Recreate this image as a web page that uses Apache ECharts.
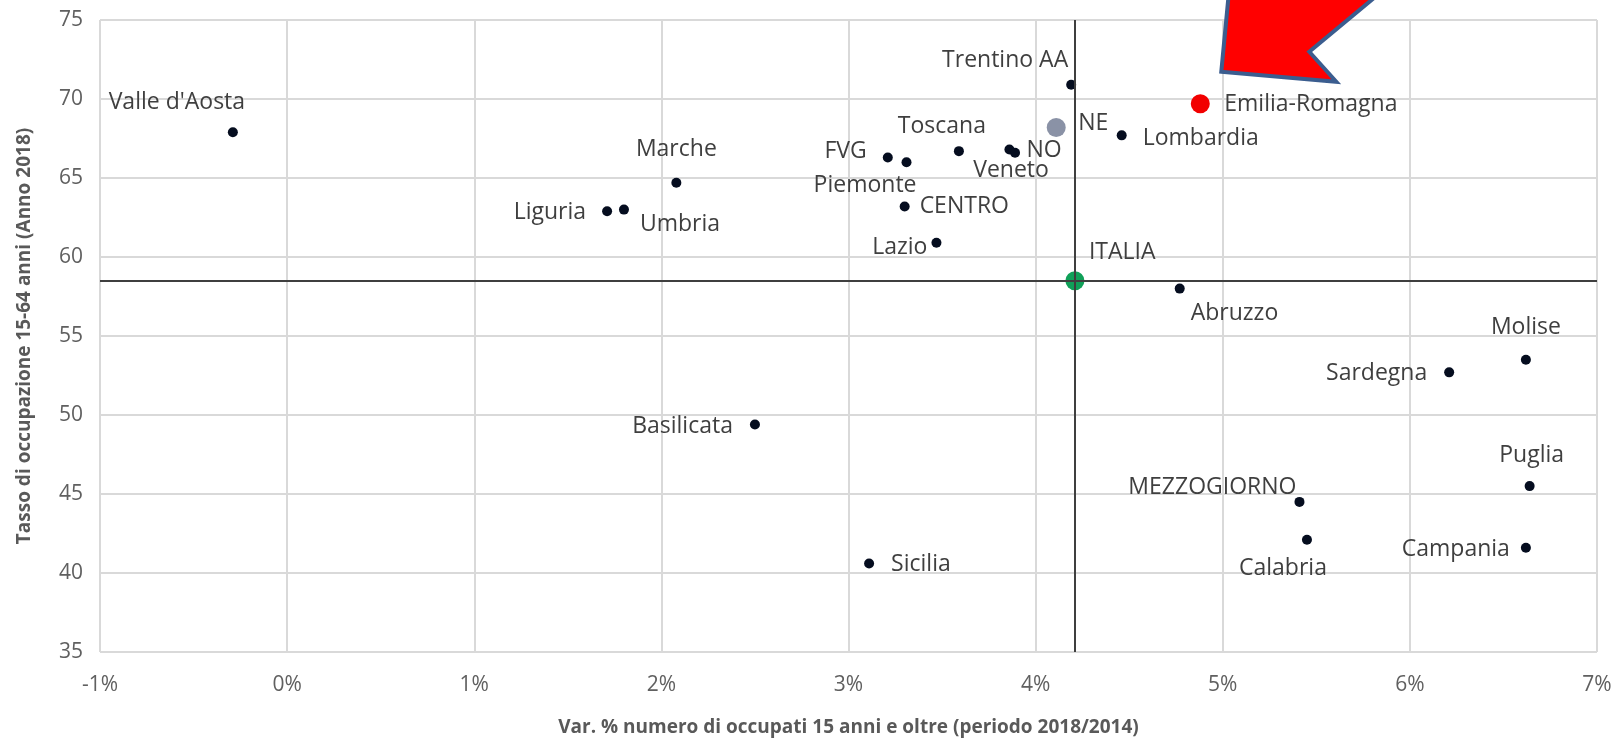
<!DOCTYPE html>
<html><head><meta charset="utf-8">
<script src="https://cdn.jsdelivr.net/npm/echarts@6/dist/echarts.min.js"></script>
<style>html,body{margin:0;padding:0;background:#fff}#c{width:1619px;height:742px}</style>
</head><body><div id="c"></div>
<script>
// ---- data ----
const names = ["Valle d'Aosta","Liguria","Umbria","Marche","Basilicata","Sicilia","FVG","Piemonte","CENTRO","Lazio","Toscana","NO","Veneto","Trentino AA","Lombardia","Abruzzo","MEZZOGIORNO","Calabria","Sardegna","Molise","Puglia","Campania","NE","ITALIA","Emilia-Romagna"];
const varOccupati = [-0.29,1.71,1.80,2.08,2.50,3.11,3.21,3.31,3.30,3.47,3.59,3.86,3.89,4.19,4.46,4.77,5.41,5.45,6.21,6.62,6.64,6.62,4.11,4.21,4.88];
const tassoOccupazione = [67.9,62.9,63.0,64.7,49.4,40.6,66.3,66.0,63.2,60.9,66.7,66.8,66.6,70.9,67.7,58.0,44.5,42.1,52.7,53.5,45.5,41.6,68.2,58.5,69.7];
const xMin = -1, xMax = 7, xStep = 1;
const yMin = 35, yMax = 75, yStep = 5;
const referenceName = "ITALIA";
const highlightName = "Emilia-Romagna";
const xTitle = "Var. % numero di occupati 15 anni e oltre (periodo 2018/2014)";
const yTitle = "Tasso di occupazione 15-64 anni (Anno 2018)";

// ---- styles (label placement relative to the dot: dx, dy, align) ----
const labelPlace = {
  "Valle d'Aosta": [-56,-30,'center'], "Liguria": [-21,1,'right'], "Umbria": [16,15,'left'],
  "Marche": [0,-33,'center'], "Basilicata": [-22,2,'right'], "Sicilia": [22,1,'left'],
  "FVG": [-21,-6,'right'], "Piemonte": [10,23,'right'], "CENTRO": [15,0,'left'],
  "Lazio": [-9,5,'right'], "Toscana": [-17,-25,'center'], "NO": [17,1,'left'],
  "Veneto": [-4,18,'center'], "Trentino AA": [-3,-24,'right'], "Lombardia": [21,3,'left'],
  "Abruzzo": [11,25,'left'], "MEZZOGIORNO": [-3,-14,'right'], "Calabria": [-24,29,'center'],
  "Sardegna": [-22,1,'right'], "Molise": [0,-32,'center'], "Puglia": [2,-31,'center'],
  "Campania": [-16,2,'right'], "NE": [22,-4,'left'], "ITALIA": [14,-28,'left'],
  "Emilia-Romagna": [24,1,'left']
};
const specialStyle = {
  "NE": {color:'#8a92a6', size:19},
  "ITALIA": {color:'#10a058', size:19},
  "Emilia-Romagna": {color:'#f20000', size:19}
};
const dotStyle = {color:'#050d1f', size:10};
const FONT = '"Open Sans", sans-serif';

const data = names.map((n, i) => {
  const st = specialStyle[n] || dotStyle;
  const p = labelPlace[n];
  return {
    name: n,
    value: [varOccupati[i], tassoOccupazione[i]],
    symbolSize: st.size,
    itemStyle: {color: st.color, opacity: 1},
    label: {show: true, position: 'inside', offset: [p[0], p[1]], align: p[2], verticalAlign: 'middle',
      formatter: n, color: '#3f3f3f', fontSize: 23, fontFamily: FONT}
  };
});
const refIdx = names.indexOf(referenceName);

const chart = echarts.init(document.getElementById('c'), null, {renderer: 'canvas'});
chart.setOption({
  animation: false,
  backgroundColor: '#fff',
  grid: {left: 100, right: 22, top: 20, bottom: 90, containLabel: false},
  xAxis: {
    type: 'value', min: xMin, max: xMax, interval: xStep,
    axisLine: {show: false}, axisTick: {show: false},
    splitLine: {show: true, lineStyle: {color: '#d9d9d9', width: 2}},
    axisLabel: {formatter: v => v + '%', color: '#606060', fontSize: 21, fontFamily: FONT, margin: 23},
    name: xTitle, nameLocation: 'middle', nameGap: 66,
    nameTextStyle: {color: '#595959', fontSize: 19, fontWeight: 'bold', fontFamily: FONT}
  },
  yAxis: {
    type: 'value', min: yMin, max: yMax, interval: yStep,
    axisLine: {show: false}, axisTick: {show: false},
    splitLine: {show: true, lineStyle: {color: '#d9d9d9', width: 2}},
    axisLabel: {color: '#606060', fontSize: 21, fontFamily: FONT, margin: 17},
    name: yTitle, nameLocation: 'middle', nameGap: 66,
    nameTextStyle: {color: '#595959', fontSize: 19, fontWeight: 'bold', fontFamily: FONT}
  },
  series: [{
    type: 'scatter',
    data: data,
    symbol: 'circle',
    z: 3,
    emphasis: {disabled: true},
    markLine: {
      silent: true, symbol: 'none', animation: false,
      label: {show: false},
      lineStyle: {color: '#3f3f3f', width: 2, type: 'solid'},
      data: [{xAxis: varOccupati[refIdx]}, {yAxis: tassoOccupazione[refIdx]}]
    }
  }]
});

// arrow pointing to the highlighted region (anchored to its data point)
const hi = names.indexOf(highlightName);
const pt = chart.convertToPixel({gridIndex: 0}, [varOccupati[hi], tassoOccupazione[hi]]);
const rel = [[21,-32],[136,-22],[109,-52],[263,-180],[211,-243],[57,-115],[32,-147]];
chart.setOption({
  graphic: [{
    type: 'polygon', z: 100,
    shape: {points: rel.map(r => [pt[0] + r[0], pt[1] + r[1]])},
    style: {fill: '#ff0000', stroke: '#3b5d8f', lineWidth: 4, lineJoin: 'miter'}
  }]
});
</script>
</body></html>
